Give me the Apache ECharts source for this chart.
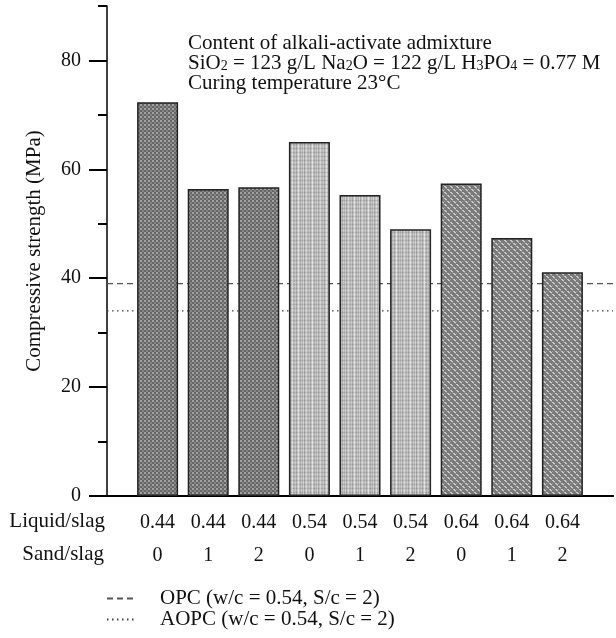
<!DOCTYPE html>
<html>
<head>
<meta charset="utf-8">
<script src="https://cdn.jsdelivr.net/npm/echarts@6/dist/echarts.min.js"></script>
<style>
  html, body { margin: 0; padding: 0; background: #fff; }
  #main { width: 616px; height: 638px; }
</style>
</head>
<body>
<div id="main"></div>
<script>
// values
const liquidSlag = ['0.44', '0.44', '0.44', '0.54', '0.54', '0.54', '0.64', '0.64', '0.64'];
const sandSlag = ['0', '1', '2', '0', '1', '2', '0', '1', '2'];
const strength = [72.3, 56.4, 56.7, 65.0, 55.3, 49.0, 57.4, 47.4, 41.1];
const opcLevel = 39.0;
const aopcLevel = 34.0;
const yTicks = [0, 20, 40, 60, 80];

const FONT = '"Liberation Serif", "DejaVu Serif", serif';

// bar fill textures
function tile(w, h, draw) {
  const c = document.createElement('canvas');
  c.width = w; c.height = h;
  const ctx = c.getContext('2d');
  draw(ctx);
  return { image: c, repeat: 'repeat' };
}
const darkChecker = tile(4, 4, ctx => {
  ctx.fillStyle = '#666'; ctx.fillRect(0, 0, 4, 4);
  ctx.fillStyle = '#a2a2a2'; ctx.fillRect(0, 0, 2, 2);
  ctx.fillStyle = '#858585'; ctx.fillRect(2, 2, 2, 2);
});
const lightStripes = tile(14, 4, ctx => {
  const cols = ['#b4b4b4', '#c6c6c6', '#a6a6a6', '#c2c2c2', '#e2e2e2', '#bcbcbc', '#aaaaaa',
                '#c4c4c4', '#b0b0b0', '#cfcfcf', '#a4a4a4', '#c0c0c0', '#d6d6d6', '#b6b6b6'];
  cols.forEach((col, x) => { ctx.fillStyle = col; ctx.fillRect(x, 0, 1, 4); });
  ctx.fillStyle = 'rgba(0,0,0,0.08)'; ctx.fillRect(0, 0, 14, 1);
  ctx.fillStyle = 'rgba(255,255,255,0.12)'; ctx.fillRect(0, 2, 14, 1);
});
const weave = tile(6, 6, ctx => {
  ctx.fillStyle = '#7a7a7a'; ctx.fillRect(0, 0, 6, 6);
  ctx.fillStyle = '#c8c8c8';
  ctx.fillRect(0, 0, 2, 1); ctx.fillRect(1, 1, 2, 1);
  ctx.fillRect(3, 3, 2, 1); ctx.fillRect(4, 4, 2, 1);
  ctx.fillStyle = '#9e9e9e';
  ctx.fillRect(2, 2, 1, 1); ctx.fillRect(5, 5, 1, 1); ctx.fillRect(0, 3, 1, 1);
});
const fills = [darkChecker, darkChecker, darkChecker, lightStripes, lightStripes, lightStripes, weave, weave, weave];

const chart = echarts.init(document.getElementById('main'));

chart.setOption({
  animation: false,
  textStyle: { fontFamily: FONT },
  grid: { left: 107, right: 0, top: 6, bottom: 142 },
  xAxis: [
    {
      type: 'value',
      min: 0,
      max: 10,
      interval: 1,
      axisLine: { lineStyle: { color: '#000', width: 2 } },
      axisTick: { show: false },
      splitLine: { show: false },
      axisLabel: {
        margin: 10,
        fontSize: 20,
        lineHeight: 33,
        color: '#111',
        fontFamily: FONT,
        formatter: v => (v >= 1 && v <= liquidSlag.length) ? liquidSlag[v - 1] + '\n' + sandSlag[v - 1] : ''
      }
    },
    {
      type: 'value',
      position: 'top',
      min: 0,
      max: 10,
      axisLine: { show: true, lineStyle: { color: '#000', width: 2 } },
      axisTick: { show: false },
      axisLabel: { show: false },
      splitLine: { show: false }
    }
  ],
  yAxis: [
    {
      type: 'value',
      min: 0,
      max: 90,
      interval: 10,
      axisLine: { show: true, lineStyle: { color: '#000', width: 1.5 } },
      axisTick: { show: true, length: 9, lineStyle: { color: '#000', width: 2 } },
      axisLabel: { show: false },
      splitLine: { show: false }
    },
    {
      type: 'value',
      position: 'left',
      min: 0,
      max: 90,
      interval: 10,
      name: 'Compressive strength (MPa)',
      nameLocation: 'middle',
      nameGap: 62,
      nameTextStyle: { fontSize: 21, color: '#111', fontFamily: FONT },
      axisLine: { show: false },
      axisTick: { show: true, customValues: yTicks, length: 18, lineStyle: { color: '#000', width: 2 } },
      axisLabel: { customValues: yTicks, margin: 26, fontSize: 20, color: '#111', fontFamily: FONT },
      splitLine: { show: false }
    }
  ],
  legend: {
    orient: 'vertical',
    left: 106,
    top: 588,
    padding: 0,
    itemWidth: 29,
    itemHeight: 10,
    itemGap: 0,
    itemStyle: { opacity: 0 },
    textStyle: { fontSize: 21, lineHeight: 20, color: '#111', fontFamily: FONT, padding: [0, 0, 0, 19] },
    data: ['OPC (w/c = 0.54, S/c = 2)', 'AOPC (w/c = 0.54, S/c = 2)']
  },
  graphic: [
    {
      type: 'text',
      left: 188,
      top: 33,
      style: {
        text: 'Content of alkali-activate admixture\n' +
              '{n|SiO}{s|2}{n| = 123 g/L Na}{s|2}{n|O = 122 g/L H}{s|3}{n|PO}{s|4}{n| = 0.77 M}\n' +
              'Curing temperature 23°C',
        font: '21px ' + FONT,
        fill: '#111',
        lineHeight: 20,
        rich: {
          n: { fontSize: 21, lineHeight: 20, fontFamily: FONT, fill: '#111' },
          s: { fontSize: 14, lineHeight: 9, verticalAlign: 'bottom', fontFamily: FONT, fill: '#111' }
        }
      }
    },
    {
      type: 'text',
      right: 616 - 105,
      top: 511,
      style: { text: 'Liquid/slag', font: '21px ' + FONT, fill: '#111' }
    },
    {
      type: 'text',
      right: 616 - 104,
      top: 544,
      style: { text: 'Sand/slag', font: '21px ' + FONT, fill: '#111' }
    }
  ],
  series: [
    {
      name: 'OPC (w/c = 0.54, S/c = 2)',
      type: 'line',
      z: 1,
      symbol: 'none',
      xAxisIndex: 0,
      yAxisIndex: 0,
      lineStyle: { color: '#555', width: 1.3, type: [6, 4] },
      itemStyle: { color: '#555' },
      data: [[0, opcLevel], [10, opcLevel]]
    },
    {
      name: 'AOPC (w/c = 0.54, S/c = 2)',
      type: 'line',
      z: 1,
      symbol: 'none',
      xAxisIndex: 0,
      yAxisIndex: 0,
      lineStyle: { color: '#444', width: 1.3, type: [1.5, 3.5] },
      itemStyle: { color: '#444' },
      data: [[0, aopcLevel], [10, aopcLevel]]
    },
    {
      type: 'bar',
      z: 3,
      xAxisIndex: 0,
      yAxisIndex: 0,
      barWidth: 41,
      itemStyle: { borderColor: '#222', borderWidth: 1.5 },
      data: strength.map((v, i) => ({ value: [i + 1, v], itemStyle: { color: fills[i] } }))
    }
  ]
});
</script>
</body>
</html>
